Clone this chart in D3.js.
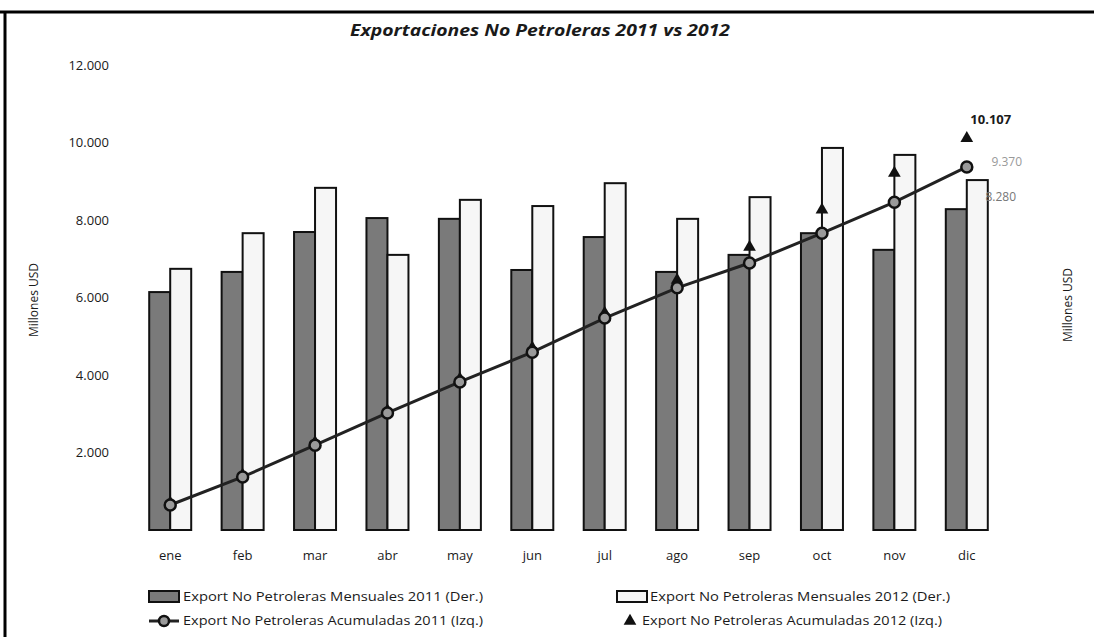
<!DOCTYPE html>
<html>
<head>
<meta charset="utf-8">
<script src="https://cdn.jsdelivr.net/npm/d3@7"></script>
<style>
  body { margin: 0; background: #fff; }
  text { font-family: "Open Sans", "Liberation Sans", sans-serif; fill: #1a1a1a; }
</style>
</head>
<body>
<svg width="1094" height="637"></svg>
<script>
var meses = ["ene","feb","mar","abr","may","jun","jul","ago","sep","oct","nov","dic"];
var mensual2011 = [6140, 6660, 7690, 8050, 8030, 6710, 7560, 6660, 7100, 7660, 7230, 8280];
var mensual2012 = [6740, 7660, 8830, 7100, 8520, 8360, 8950, 8030, 8590, 9860, 9680, 9030];
var acum2011 = [645, 1370, 2190, 3020, 3820, 4590, 5470, 6250, 6890, 7660, 8460, 9370];
var acum2012 = [700, 1420, 2260, 3080, 3900, 4700, 5600, 6450, 7300, 8260, 9210, 10107];
var yTicks = [2000, 4000, 6000, 8000, 10000, 12000];
var leyenda = [
  "Export No Petroleras Mensuales 2011 (Der.)",
  "Export No Petroleras Mensuales 2012 (Der.)",
  "Export No Petroleras Acumuladas 2011 (Izq.)",
  "Export No Petroleras Acumuladas 2012 (Izq.)"
];

var svg = d3.select("svg"),
    width = +svg.attr("width"),
    height = +svg.attr("height");

var fmt = d3.formatLocale({decimal: ",", thousands: ".", grouping: [3]}).format(",d");

var x = d3.scaleBand().domain(meses).range([134, 1003]).padding(0);
var y = d3.scaleLinear().domain([0, 12000]).range([530, 65]);
var yDer = d3.scaleLinear().domain([0, 12000]).range([530, 65]);
var cx = d => x(d) + x.bandwidth()/2;
var bw = 21;

// marco
svg.append("line").attr("x1", 0).attr("x2", width).attr("y1", 12).attr("y2", 12)
    .attr("stroke", "#000").attr("stroke-width", 3);
svg.append("line").attr("x1", 5).attr("x2", 5).attr("y1", 11).attr("y2", height)
    .attr("stroke", "#000").attr("stroke-width", 3);

svg.append("text")
    .attr("x", 540).attr("y", 36)
    .attr("text-anchor", "middle")
    .attr("textLength", 380).attr("lengthAdjust", "spacingAndGlyphs")
    .style("font-size", "16px").style("font-weight", "bold").style("font-style", "italic")
    .text("Exportaciones No Petroleras 2011 vs 2012");

// eje izquierdo
var yAxis = d3.axisLeft(y).tickValues(yTicks).tickSize(0).tickFormat(fmt);
var gy = svg.append("g").attr("transform", "translate(112,0)").call(yAxis);
gy.select(".domain").remove();
gy.selectAll("text").style("font-size", "13px").attr("fill", "#1a1a1a")
    .attr("font-family", "Open Sans");

svg.append("text")
    .attr("transform", "translate(38,300) rotate(-90)")
    .attr("text-anchor", "middle").style("font-size", "12px")
    .text("Millones USD");
svg.append("text")
    .attr("transform", "translate(1072,305) rotate(-90)")
    .attr("text-anchor", "middle").style("font-size", "12px")
    .text("Millones USD");

// eje x
var xAxis = d3.axisBottom(x).tickSize(0);
var gx = svg.append("g").attr("transform", "translate(0,548)").call(xAxis);
gx.select(".domain").remove();
gx.selectAll("text").style("font-size", "13px").attr("fill", "#1a1a1a")
    .attr("font-family", "Open Sans");

// barras
svg.append("g").selectAll("rect")
    .data(mensual2011)
    .enter().append("rect")
    .attr("x", (d, i) => cx(meses[i]) - bw)
    .attr("y", d => yDer(d))
    .attr("width", bw)
    .attr("height", d => yDer(0) - yDer(d))
    .attr("fill", "#7a7a7a")
    .attr("stroke", "#111")
    .attr("stroke-width", 2);

svg.append("g").selectAll("rect")
    .data(mensual2012)
    .enter().append("rect")
    .attr("x", (d, i) => cx(meses[i]))
    .attr("y", d => yDer(d))
    .attr("width", bw)
    .attr("height", d => yDer(0) - yDer(d))
    .attr("fill", "#f6f6f6")
    .attr("stroke", "#111")
    .attr("stroke-width", 2);

// linea acumulada 2011
var line = d3.line().x((d, i) => cx(meses[i])).y(d => y(d));
svg.append("path")
    .datum(acum2011)
    .attr("d", line)
    .attr("fill", "none")
    .attr("stroke", "#222")
    .attr("stroke-width", 3);

// acumulada 2012 (solo marcadores)
var tri = d3.symbol().type(d3.symbolTriangle).size(70);
svg.append("g").selectAll("path")
    .data(acum2012)
    .enter().append("path")
    .attr("d", tri)
    .attr("transform", (d, i) => "translate(" + cx(meses[i]) + "," + y(d) + ")")
    .attr("fill", "#111");

svg.append("g").selectAll("circle")
    .data(acum2011)
    .enter().append("circle")
    .attr("cx", (d, i) => cx(meses[i]))
    .attr("cy", d => y(d))
    .attr("r", 5.5)
    .attr("fill", "#9a9a9a")
    .attr("stroke", "#111")
    .attr("stroke-width", 2.5);

// etiquetas de datos en dic
var last = meses.length - 1;
svg.append("text")
    .attr("x", cx(meses[last]) + 24).attr("y", y(acum2012[last]) - 14)
    .attr("text-anchor", "middle")
    .style("font-size", "13px").style("font-weight", "bold")
    .text(fmt(acum2012[last]));
svg.append("text")
    .attr("x", cx(meses[last]) + 40).attr("y", y(acum2011[last]) - 1)
    .attr("text-anchor", "middle")
    .style("font-size", "12px").style("fill", "#999")
    .text(fmt(acum2011[last]));
svg.append("text")
    .attr("x", cx(meses[last]) + 34).attr("y", yDer(mensual2011[last]) - 8)
    .attr("text-anchor", "middle")
    .style("font-size", "12px").style("fill", "#777")
    .text(fmt(mensual2011[last]));

// leyenda
var lg = svg.append("g");
var lx = [149, 617], ly = [597, 621];
lg.append("rect").attr("x", lx[0]).attr("y", ly[0] - 6).attr("width", 30).attr("height", 11)
    .attr("fill", "#7a7a7a").attr("stroke", "#111").attr("stroke-width", 2);
lg.append("rect").attr("x", lx[1]).attr("y", ly[0] - 6).attr("width", 30).attr("height", 11)
    .attr("fill", "#f6f6f6").attr("stroke", "#111").attr("stroke-width", 2);
lg.append("line").attr("x1", lx[0]).attr("x2", lx[0] + 30).attr("y1", ly[1]).attr("y2", ly[1])
    .attr("stroke", "#222").attr("stroke-width", 3);
lg.append("circle").attr("cx", lx[0] + 15).attr("cy", ly[1]).attr("r", 5)
    .attr("fill", "#9a9a9a").attr("stroke", "#111").attr("stroke-width", 2.5);
lg.append("path").attr("d", tri)
    .attr("transform", "translate(" + (lx[1] + 13) + "," + ly[1] + ")")
    .attr("fill", "#111");

var lpos = [[lx[0] + 34, ly[0]], [lx[1] + 33, ly[0]], [lx[0] + 34, ly[1]], [lx[1] + 25, ly[1]]];
lg.selectAll("text.ley")
    .data(leyenda)
    .enter().append("text")
    .attr("class", "ley")
    .attr("x", (d, i) => lpos[i][0])
    .attr("y", (d, i) => lpos[i][1])
    .attr("dy", "0.35em")
    .attr("textLength", 300).attr("lengthAdjust", "spacingAndGlyphs")
    .style("font-size", "12px")
    .text(d => d);
</script>
</body>
</html>
